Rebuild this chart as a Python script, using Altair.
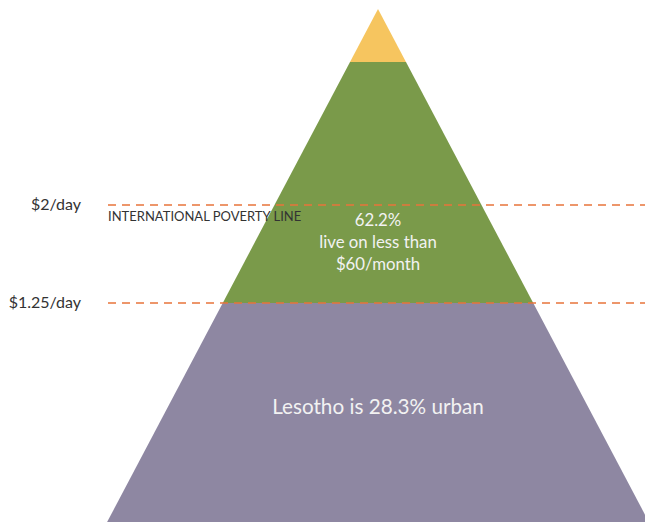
import altair as alt
import pandas as pd

# ---- data ----
band_names = ["top", "middle", "bottom"]
band_colors = ["#F6C55F", "#7A9A4A", "#8E87A2"]
band_top = [9, 62, 303]          # vertical level (px units of the drawing) where each band starts
band_bottom = [62, 303, 522]     # where each band ends
apex_x = 378
half_slope = 0.528               # half-width growth per unit of depth

line_labels = ["$2/day", "$1.25/day"]
line_levels = [205, 303]
line_start = 108
line_end = 645

inner_lines = ["62.2%", "live on less than", "$60/month"]
inner_levels = [221, 243, 265]
urban_text = "Lesotho is 28.3% urban"
urban_level = 408
poverty_label = "INTERNATIONAL POVERTY LINE"
poverty_level = 217

# ---- build tables ----
rows = []
for name, col, t, b in zip(band_names, band_colors, band_top, band_bottom):
    for lv in (t, b):
        d = half_slope * (lv - band_top[0])
        rows.append({"band": name, "color": col, "y": lv, "xl": apex_x - d, "xr": apex_x + d})
bands = pd.DataFrame(rows)

lines = pd.DataFrame({"label": line_labels, "y": line_levels,
                      "x1": [line_start] * 2, "x2": [line_end] * 2})
inner = pd.DataFrame({"text": inner_lines, "y": inner_levels})

xs = alt.Scale(domain=[0, 645], nice=False, zero=False)
ys = alt.Scale(domain=[0, 522], nice=False, zero=False, reverse=True)

area = alt.Chart(bands).mark_area(orient="horizontal", clip=True).encode(
    y=alt.Y("y:Q", scale=ys, axis=None),
    x=alt.X("xl:Q", scale=xs, axis=None, stack=None),
    x2="xr:Q",
    color=alt.Color("color:N", scale=None),
    detail="band:N",
)

rules = alt.Chart(lines).mark_rule(
    color="#E8743B", strokeDash=[8, 6], strokeWidth=1.3
).encode(
    y=alt.Y("y:Q", scale=ys, axis=None),
    x=alt.X("x1:Q", scale=xs, axis=None),
    x2="x2:Q",
)

left_labels = alt.Chart(lines).mark_text(
    align="right", baseline="middle", font="Lato", fontSize=16, color="#333333"
).encode(
    y=alt.Y("y:Q", scale=ys, axis=None),
    x=alt.value(81),
    text="label:N",
)

pov = alt.Chart(pd.DataFrame({"text": [poverty_label], "y": [poverty_level]})).mark_text(
    align="left", baseline="middle", font="Lato", fontSize=13, color="#333333"
).encode(
    y=alt.Y("y:Q", scale=ys, axis=None),
    x=alt.value(line_start),
    text="text:N",
)

inner_txt = alt.Chart(inner).mark_text(
    align="center", baseline="middle", font="Lato", fontSize=16.8, color="#F2F2F2"
).encode(
    y=alt.Y("y:Q", scale=ys, axis=None),
    x=alt.value(apex_x),
    text="text:N",
)

urban = alt.Chart(pd.DataFrame({"text": [urban_text], "y": [urban_level]})).mark_text(
    align="center", baseline="middle", font="Lato", fontSize=20.7, color="#F2F2F2"
).encode(
    y=alt.Y("y:Q", scale=ys, axis=None),
    x=alt.value(apex_x),
    text="text:N",
)

chart = alt.layer(area, rules, left_labels, pov, inner_txt, urban).properties(
    width=645, height=522, padding=0, autosize=alt.AutoSizeParams(type="none")
).configure_view(stroke=None)

chart.save("out.html", embed_options={"renderer": "svg", "actions": False})
